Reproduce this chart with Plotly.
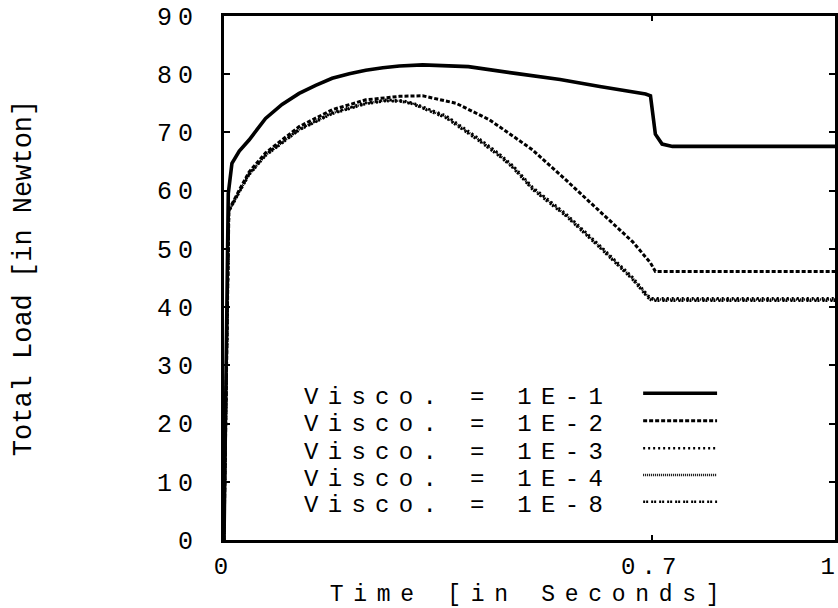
import plotly.graph_objects as go

# ---- data ----
time_1e1 = [0, 0.007, 0.013, 0.025, 0.041, 0.068, 0.095, 0.123, 0.15, 0.177, 0.205, 0.232,
            0.26, 0.287, 0.325, 0.40, 0.48, 0.55, 0.615, 0.69, 0.698, 0.706, 0.717, 0.734,
            0.76, 1.0]
load_1e1 = [0, 59.5, 64.7, 66.8, 68.7, 72.4, 74.8, 76.7, 78.1, 79.3, 80.1, 80.7,
            81.1, 81.4, 81.6, 81.3, 80.1, 79.1, 77.9, 76.6, 76.3, 69.7, 68.0, 67.6,
            67.6, 67.6]

time_1e2 = [0, 0.008, 0.026, 0.041, 0.068, 0.123, 0.177, 0.232, 0.287, 0.325, 0.38, 0.434,
            0.478, 0.505, 0.56, 0.615, 0.669, 0.698, 0.706, 1.0]
load_1e2 = [0, 56.7, 60.3, 63.2, 66.5, 71.0, 73.9, 75.6, 76.2, 76.3, 75.0, 72.2,
            69.0, 67.0, 61.8, 56.5, 51.2, 47.6, 46.1, 46.1]

time_1e3 = [0, 0.008, 0.026, 0.041, 0.068, 0.123, 0.177, 0.232, 0.265, 0.29, 0.308, 0.363,
            0.418, 0.451, 0.473, 0.505, 0.56, 0.615, 0.669, 0.694, 0.70, 1.0]
load_1e3 = [0, 56.6, 60.1, 62.9, 66.2, 70.6, 73.4, 75.1, 75.6, 75.5, 75.1, 72.9,
            68.9, 66.3, 64.3, 60.6, 56.0, 50.6, 45.1, 42.0, 41.5, 41.5]

time_1e4 = [0, 0.008, 0.026, 0.041, 0.068, 0.123, 0.177, 0.232, 0.265, 0.29, 0.308, 0.363,
            0.418, 0.451, 0.473, 0.505, 0.56, 0.615, 0.669, 0.694, 0.70, 1.0]
load_1e4 = [0, 56.5, 60.0, 62.8, 66.1, 70.5, 73.3, 75.0, 75.5, 75.4, 75.0, 72.7,
            68.7, 66.1, 64.1, 60.4, 55.8, 50.4, 44.9, 41.8, 41.3, 41.3]

time_1e8 = [0, 0.008, 0.026, 0.041, 0.068, 0.123, 0.177, 0.232, 0.265, 0.29, 0.308, 0.363,
            0.418, 0.451, 0.473, 0.505, 0.56, 0.615, 0.669, 0.694, 0.70, 1.0]
load_1e8 = [0, 56.4, 59.9, 62.7, 66.0, 70.4, 73.2, 74.9, 75.4, 75.3, 74.9, 72.5,
            68.5, 65.9, 63.9, 60.2, 55.6, 50.2, 44.7, 41.6, 41.1, 41.1]

series_names = ["Visco. = 1E-1", "Visco. = 1E-2", "Visco. = 1E-3",
                "Visco. = 1E-4", "Visco. = 1E-8"]
series_times = [time_1e1, time_1e2, time_1e3, time_1e4, time_1e8]
series_loads = [load_1e1, load_1e2, load_1e3, load_1e4, load_1e8]

x_tickvals = [0, 0.7, 1]
x_ticktext = ["0", "0.7", "1"]
y_tickvals = [0, 10, 20, 30, 40, 50, 60, 70, 80, 90]
y_ticktext = ["0", "10", "20", "30", "40", "50", "60", "70", "80", "90"]

x_title = "Time [in Seconds]"
y_title = "Total Load [in Newton]"

# ---- styles ----
styles = [
    dict(width=3.6, dash="solid"),
    dict(width=3.0, dash="4px,2px"),
    dict(width=2.6, dash="2px,3px"),
    dict(width=2.4, dash="1px,1px"),
    dict(width=2.6, dash="2px,1px,2px,3px"),
]
FONT = "Liberation Mono, Courier New, monospace"

fig = go.Figure()
for name, t, v, st in zip(series_names, series_times, series_loads, styles):
    fig.add_trace(go.Scatter(x=t, y=v, mode="lines", name=name, showlegend=False,
                             line=dict(color="black", width=st["width"], dash=st["dash"])))

# hand-made legend (text on the left, line sample on the right)
text_y = [0.2710, 0.2200, 0.1679, 0.1164, 0.0662]
sample_y = [0.2800, 0.2277, 0.1750, 0.1240, 0.0731]
annotations = []
shapes = []
for name, ty, sy, st in zip(series_names, text_y, sample_y, styles):
    annotations.append(dict(x=0.128, y=ty, xref="paper", yref="paper", text=name,
                            showarrow=False, xanchor="left", yanchor="middle", align="left",
                            font=dict(family=FONT, size=24, color="black")))
    shapes.append(dict(type="line", xref="paper", yref="paper", x0=0.686, x1=0.807,
                       y0=sy, y1=sy,
                       line=dict(color="black", width=st["width"], dash=st["dash"])))

fig.update_layout(
    width=838, height=608,
    margin=dict(l=224, r=3, t=16, b=68),
    paper_bgcolor="white", plot_bgcolor="white",
    font=dict(family=FONT, size=25, color="black"),
    annotations=annotations,
    shapes=shapes,
)
fig.update_xaxes(range=[0, 1], tickvals=x_tickvals, ticktext=x_ticktext, automargin=False,
                 showgrid=False, zeroline=False, showline=True, linewidth=3,
                 linecolor="black", mirror="allticks", ticks="inside", ticklen=5,
                 tickwidth=2, tickcolor="black", ticklabelstandoff=2,
                 ticklabeloverflow="allow", tickfont=dict(size=24),
                 title=dict(text=x_title, font=dict(family=FONT, size=23), standoff=12))
fig.update_yaxes(range=[0, 90], tickvals=y_tickvals, ticktext=y_ticktext, automargin=False,
                 showgrid=False, zeroline=False, showline=True, linewidth=3,
                 linecolor="black", mirror="allticks", ticks="inside", ticklen=6,
                 tickwidth=2, tickcolor="black", ticklabelstandoff=17,
                 ticklabeloverflow="allow",
                 title=dict(text=y_title, font=dict(family=FONT, size=27), standoff=130))

post = """
document.querySelectorAll('.xtick text, .ytick text').forEach(function(t){t.style.letterSpacing='6px';});
document.querySelectorAll('.xtick text').forEach(function(t){
  if (t.textContent === '1') { t.style.letterSpacing='0px'; t.style.textAnchor='end'; t.setAttribute('text-anchor','end'); }
});
document.querySelectorAll('.g-xtitle text').forEach(function(t){t.style.letterSpacing='9.7px';});
document.querySelectorAll('.annotation-text').forEach(function(t){t.style.letterSpacing='9.3px';});
"""
fig.write_html("out.html", post_script=post)
